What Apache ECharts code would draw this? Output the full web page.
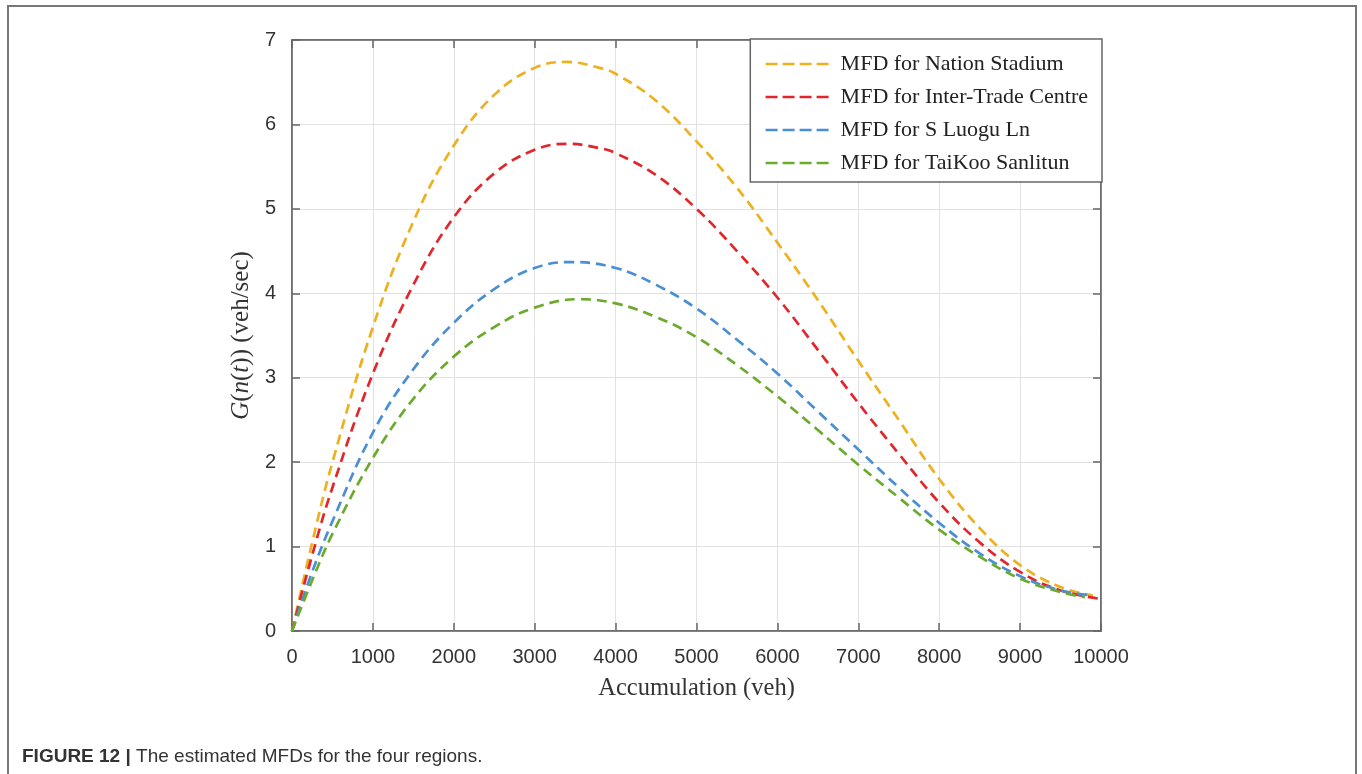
<!DOCTYPE html>
<html>
<head>
<meta charset="utf-8">
<script src="https://cdn.jsdelivr.net/npm/echarts@6/dist/echarts.min.js"></script>
<style>
  html, body { margin: 0; padding: 0; background: #fff; }
  #chart { width: 1362px; height: 774px; }
</style>
</head>
<body>
<div id="chart"></div>
<script>
// accumulation (veh) vs G(n(t)) (veh/sec)
const seriesNames = [
  'MFD for Nation Stadium',
  'MFD for Inter-Trade Centre',
  'MFD for S Luogu Ln',
  'MFD for TaiKoo Sanlitun'
]
const nationStadium = [
  [0, 0], [250, 1.05], [500, 2.0], [1000, 3.6], [1500, 4.85], [2000, 5.75], [2500, 6.35],
  [3000, 6.67], [3400, 6.74], [3800, 6.67], [4000, 6.6], [4500, 6.28], [5000, 5.8],
  [5500, 5.25], [6000, 4.6], [6500, 3.92], [7000, 3.2], [7500, 2.5], [8000, 1.8],
  [8500, 1.22], [9000, 0.78], [9500, 0.52], [9900, 0.42]
]
const interTrade = [
  [0, 0], [250, 0.9], [500, 1.7], [1000, 3.05], [1500, 4.1], [2000, 4.9], [2500, 5.42],
  [3000, 5.7], [3400, 5.77], [3800, 5.72], [4000, 5.66], [4500, 5.4], [5000, 5.0],
  [5500, 4.5], [6000, 3.95], [6500, 3.33], [7000, 2.7], [7500, 2.1], [8000, 1.52],
  [8500, 1.05], [9000, 0.7], [9500, 0.48], [10000, 0.38]
]
const sLuogu = [
  [0, 0], [250, 0.7], [500, 1.3], [1000, 2.35], [1500, 3.1], [2000, 3.65], [2500, 4.05],
  [3000, 4.3], [3450, 4.37], [4000, 4.3], [4500, 4.1], [5000, 3.82], [5500, 3.45],
  [6000, 3.05], [6500, 2.6], [7000, 2.15], [7500, 1.7], [8000, 1.28], [8500, 0.92],
  [9000, 0.65], [9500, 0.48], [9900, 0.42]
]
const taikoo = [
  [0, 0], [250, 0.6], [500, 1.15], [1000, 2.05], [1500, 2.75], [2000, 3.25], [2500, 3.6],
  [3000, 3.83], [3550, 3.93], [4000, 3.88], [4500, 3.72], [5000, 3.48], [5500, 3.15],
  [6000, 2.78], [6500, 2.38], [7000, 1.97], [7500, 1.58], [8000, 1.2], [8500, 0.88],
  [9000, 0.62], [9500, 0.46], [9800, 0.4]
]
const seriesData = [nationStadium, interTrade, sLuogu, taikoo]
const colors = ['#EDB120', '#E2262D', '#4A8FD3', '#6BAA2C']

const chart = echarts.init(document.getElementById('chart'))

const axisLine = { show: true, onZero: false, lineStyle: { color: '#666', width: 1.5 } }
const axisTick = { inside: true, length: 8, lineStyle: { color: '#666', width: 1.5 } }
const tickLabel = { fontFamily: 'Liberation Sans, Arial', fontSize: 20, color: '#333', formatter: v => String(v) }
const serif = 'Liberation Serif, Times New Roman'

chart.setOption({
  animation: false,
  grid: {
    left: 292, top: 40, width: 809, height: 591,
    show: true, borderColor: '#666', borderWidth: 1.5, backgroundColor: '#fff'
  },
  legend: {
    right: 260, top: 39,
    orient: 'vertical',
    itemGap: 11,
    itemWidth: 64, itemHeight: 22,
    padding: [14, 14, 8, 14],
    borderColor: '#666', borderWidth: 1.5, borderRadius: 0,
    backgroundColor: '#fff',
    itemStyle: { opacity: 0 },
    lineStyle: { width: 2.6, type: [12, 5] },
    textStyle: { fontFamily: serif, fontSize: 22, color: '#222', padding: [0, 0, 0, 6] },
    data: seriesNames
  },
  xAxis: [{
    type: 'value', min: 0, max: 10000, interval: 1000,
    axisLine: axisLine,
    axisTick: axisTick,
    axisLabel: Object.assign({ margin: 16 }, tickLabel),
    splitLine: { show: true, lineStyle: { color: '#e2e2e2', width: 1 } },
    name: 'Accumulation (veh)', nameLocation: 'middle', nameGap: 45,
    nameTextStyle: { fontFamily: serif, fontSize: 24.5, color: '#333' }
  }, {
    type: 'value', position: 'top', min: 0, max: 10000, interval: 1000,
    axisLine: axisLine,
    axisTick: axisTick,
    axisLabel: { show: false }, splitLine: { show: false }
  }],
  yAxis: [{
    type: 'value', min: 0, max: 7, interval: 1,
    axisLine: axisLine,
    axisTick: axisTick,
    axisLabel: Object.assign({ margin: 16 }, tickLabel),
    splitLine: { show: true, lineStyle: { color: '#e2e2e2', width: 1 } },
    name: '{i|G}({i|n}({i|t})) (veh/sec)', nameLocation: 'middle', nameGap: 31,
    nameTextStyle: {
      fontFamily: serif, fontSize: 25, color: '#333',
      rich: {
        i: { fontFamily: serif, fontSize: 25, fontStyle: 'italic', color: '#333' }
      }
    }
  }, {
    type: 'value', position: 'right', min: 0, max: 7, interval: 1,
    axisLine: axisLine,
    axisTick: axisTick,
    axisLabel: { show: false }, splitLine: { show: false }
  }],
  series: seriesData.map((d, i) => ({
    name: seriesNames[i],
    type: 'line',
    data: d,
    smooth: 0.4,
    symbol: 'none',
    z: 3,
    color: colors[i],
    lineStyle: { color: colors[i], width: 2.7, type: [10, 6] }
  })),
  graphic: [{
    type: 'rect', z: -1, silent: true,
    shape: { x: 8, y: 6, width: 1348, height: 820 },
    style: { fill: 'none', stroke: '#777', lineWidth: 2 }
  }, {
    type: 'text', left: 22, top: 747,
    style: {
      text: '{b|FIGURE 12 |} The estimated MFDs for the four regions.',
      fontFamily: 'Liberation Sans, Arial', fontSize: 19, fill: '#333',
      rich: { b: { fontFamily: 'Liberation Sans, Arial', fontSize: 19, fontWeight: 'bold', fill: '#333' } }
    }
  }]
})
</script>
</body>
</html>
